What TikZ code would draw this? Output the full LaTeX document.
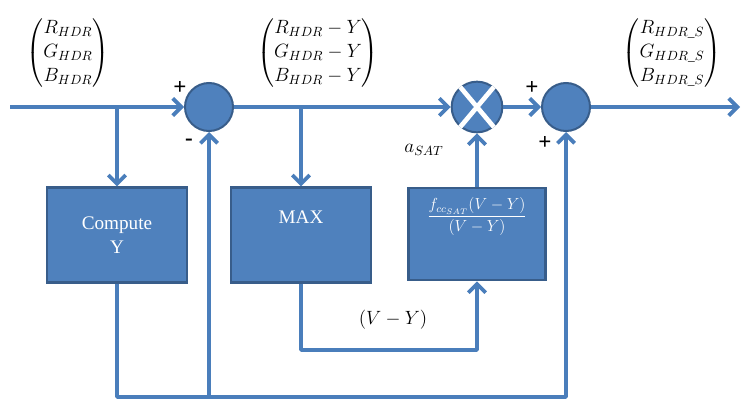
\documentclass[tikz,border=0pt]{standalone}
\usepackage{amsmath}
\usepackage{fontspec}
\setmainfont{Liberation Serif}
\usetikzlibrary{arrows.meta}
\definecolor{blockblue}{HTML}{4F81BD}
\definecolor{edgeblue}{HTML}{385D8A}
\definecolor{lineblue}{HTML}{4A7EBB}
\begin{document}
\begin{tikzpicture}[x=0.75pt,y=0.75pt,
  flow/.style={draw=lineblue,line width=2.8pt,line join=round,-{Straight Barb[length=6.5pt,width=13pt]}},
  junction/.style={circle,fill=blockblue,draw=edgeblue,line width=1.5pt,minimum size=36pt,inner sep=0pt},
  block/.style={rectangle,fill=blockblue,draw=edgeblue,line width=2pt,text=white,font=\Large,align=center,inner sep=0pt},
  sign/.style={font=\LARGE\bfseries,inner sep=0pt},
  vec/.style={font=\Large}]
\useasboundingbox (0,0) rectangle (741,401);

\node[vec] (vin) at (68,348) {$\begin{pmatrix} R_{HDR}\\ G_{HDR}\\ B_{HDR}\end{pmatrix}$};
\node[vec] (vdiff) at (318,348) {$\begin{pmatrix} R_{HDR}-Y\\ G_{HDR}-Y\\ B_{HDR}-Y\end{pmatrix}$};
\node[vec] (vout) at (672,348) {$\begin{pmatrix} R_{HDR\_S}\\ G_{HDR\_S}\\ B_{HDR\_S}\end{pmatrix}$};

\coordinate (in) at (10,294);
\coordinate (out) at (740,294);
\node[junction] (sum1) at (209,294) {};
\node[junction,minimum size=38pt] (mult) at (477,294) {};
\node[junction] (sum2) at (566,294) {};
\draw[white,line width=3.5pt] (mult.50) -- (mult.230) (mult.130) -- (mult.310);

\node[block,minimum width=105pt,minimum height=71pt] (comp) at (117,166) {Compute\\Y};
\node[block,minimum width=105pt,minimum height=71pt] (max) at (301,166) {\raisebox{9pt}[0pt][0pt]{MAX}};
\node[block,minimum width=103pt,minimum height=69pt] (fbox) at (477,167)
  {\raisebox{10pt}[0pt][0pt]{\large$\dfrac{f_{cc_{SAT}}(V-Y)}{(V-Y)}$}};

\node[sign] (p1) at (180,313) {+};
\node[sign] (m1) at (189,259) {-};
\node[sign] (p2) at (532,313) {+};
\node[sign] (p3) at (545,258) {+};
\node[font=\Large] (asat) at (424,251) {$a_{SAT}$};
\node[font=\Large] (vy) at (393,81) {$(V-Y)$};

\coordinate (b1) at (117,294);
\coordinate (b2) at (301,294);
\coordinate (loop) at (477,51);
\coordinate (j1) at (209,4);
\coordinate (back) at (566,4);

\draw[flow] (in) -- (sum1);
\draw[flow] (sum1) -- (mult);
\draw[flow] (mult) -- (sum2);
\draw[flow] (sum2) -- (out);
\draw[flow] (b1) -- (comp.north);
\draw[flow] (b2) -- (max.north);
\draw[flow] (fbox.north) -- (mult.south);
\draw[flow] (max.south) |- (loop) -- (fbox.south);
\draw[flow] (comp.south) |- (back) -- (sum2.south);
\draw[flow] (j1) -- (sum1.south);
\end{tikzpicture}
\end{document}
